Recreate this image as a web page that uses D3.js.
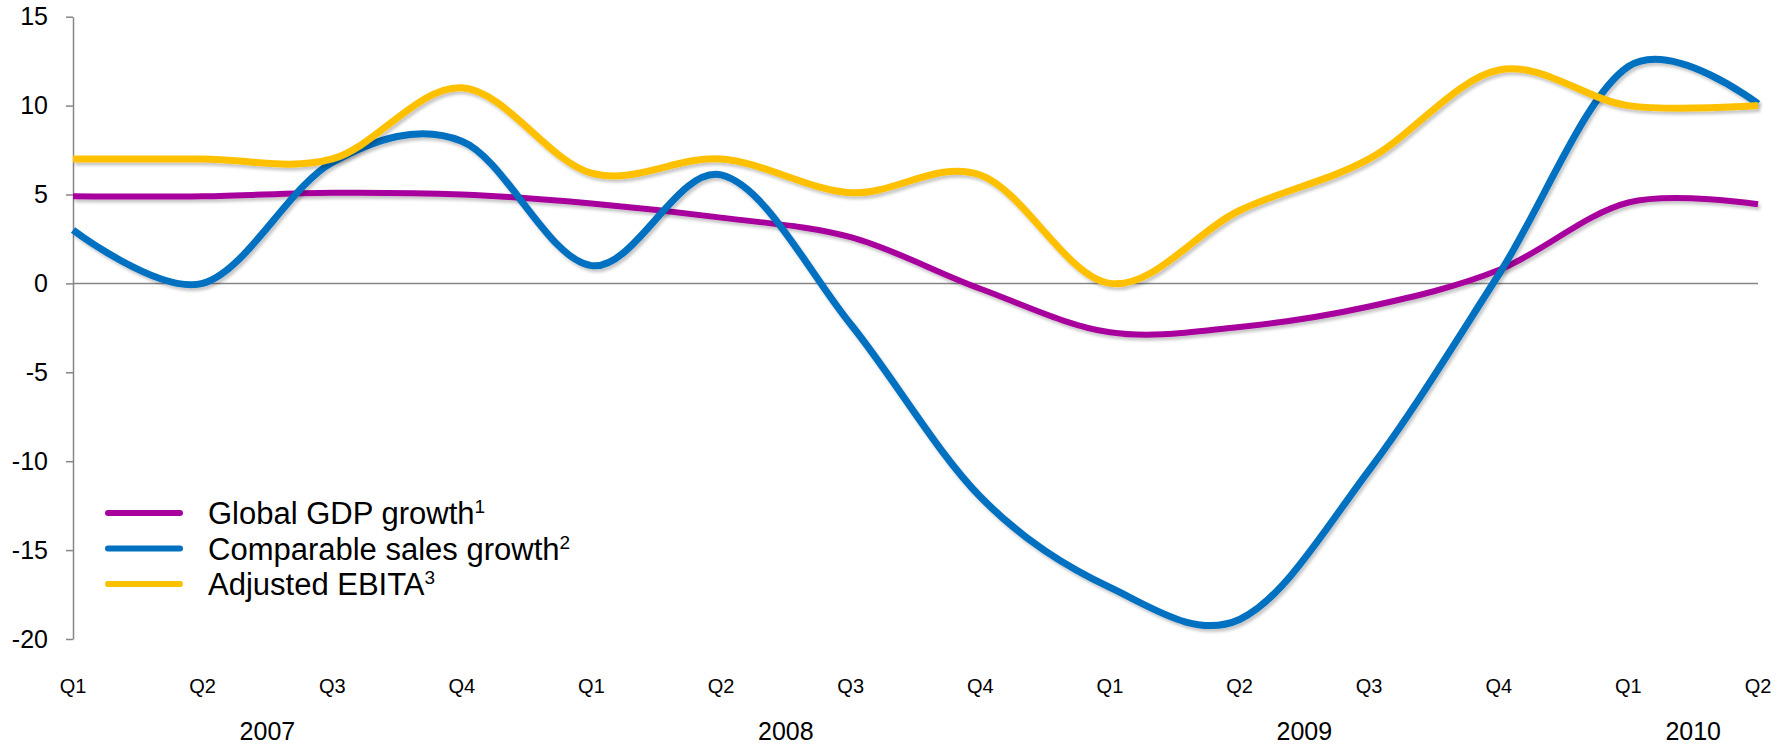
<!DOCTYPE html>
<html>
<head>
<meta charset="utf-8">
<script src="https://cdn.jsdelivr.net/npm/d3@7"></script>
<style>
  body { margin: 0; background: #fff; }
  text { font-family: "Liberation Sans", Arial, sans-serif; fill: #000; }
</style>
</head>
<body>
<script>
var width = 1782;
var height = 752;

// quarters on the x axis and the year each one belongs to
var quarters = ['Q1', 'Q2', 'Q3', 'Q4', 'Q1', 'Q2', 'Q3', 'Q4', 'Q1', 'Q2', 'Q3', 'Q4', 'Q1', 'Q2'];
var quarterYears = ['2007', '2007', '2007', '2007', '2008', '2008', '2008', '2008',
    '2009', '2009', '2009', '2009', '2010', '2010'];
var years = ['2007', '2008', '2009', '2010'];
var yTicks = [-20, -15, -10, -5, 0, 5, 10, 15];

// series values, %
var gdpGrowth = [4.9, 4.9, 5.1, 5.0, 4.5, 3.7, 2.6, -0.3, -2.75, -2.45, -1.3, 0.75, 4.55, 4.45];
var salesGrowth = [3.0, 0.0, 6.8, 8.0, 1.0, 6.1, -2.3, -12.0, -17.1, -18.9, -10.5, 0.5, 12.2, 10.1];
var ebita = [7.0, 7.0, 7.0, 11.0, 6.2, 7.0, 5.1, 6.1, 0.0, 4.1, 7.0, 12.0, 10.0, 10.0];

var series = [
    { name: 'Global GDP growth', sup: '1', values: gdpGrowth, color: '#A8009C', width: 6 },
    { name: 'Comparable sales growth', sup: '2', values: salesGrowth, color: '#0070C0', width: 7 },
    { name: 'Adjusted EBITA', sup: '3', values: ebita, color: '#FFC000', width: 7 }
];

var x = d3.scalePoint()
    .domain(d3.range(quarters.length))
    .range([73, 1758]);

var y = d3.scaleLinear()
    .domain([-20, 15])
    .range([639, 16.7]);

var svg = d3.select('body')
    .append('svg')
    .attr('width', width)
    .attr('height', height);

// soft shadow under the lines
var filter = svg.append('defs').append('filter')
    .attr('id', 'shadow')
    .attr('x', '-5%').attr('y', '-5%')
    .attr('width', '110%').attr('height', '120%');
filter.append('feDropShadow')
    .attr('dx', 2).attr('dy', 3)
    .attr('stdDeviation', 1.5)
    .attr('flood-color', '#000')
    .attr('flood-opacity', 0.22);

// y axis (plain hyphen for negatives, like the original)
var yAxis = d3.axisLeft(y)
    .tickValues(yTicks)
    .tickSizeInner(7)
    .tickSizeOuter(0)
    .tickPadding(18)
    .tickFormat(function(d) { return String(d); });

var gy = svg.append('g')
    .attr('transform', 'translate(' + x(0) + ',0)')
    .call(yAxis);
gy.select('.domain').attr('stroke', '#868686').attr('stroke-width', 1.5);
gy.selectAll('.tick line').attr('stroke', '#868686').attr('stroke-width', 1.5);
gy.selectAll('.tick text')
    .style('font-family', '"Liberation Sans", Arial, sans-serif')
    .style('font-size', '25px')
    .attr('fill', '#000');

// zero line
svg.append('line')
    .attr('x1', x(0))
    .attr('x2', x(quarters.length - 1))
    .attr('y1', y(0))
    .attr('y2', y(0))
    .attr('stroke', '#868686')
    .attr('stroke-width', 1.5);

// quarter labels
svg.selectAll('.qlabel')
    .data(quarters)
    .enter()
    .append('text')
    .attr('class', 'qlabel')
    .attr('x', function(d, i) { return x(i); })
    .attr('y', 693)
    .attr('text-anchor', 'middle')
    .style('font-size', '20px')
    .text(function(d) { return d; });

// year labels, centred under their quarters
svg.selectAll('.ylabel')
    .data(years)
    .enter()
    .append('text')
    .attr('class', 'ylabel')
    .attr('x', function(d) {
        return d3.mean(quarters.map(function(q, i) { return i; })
            .filter(function(i) { return quarterYears[i] === d; }), function(i) { return x(i); });
    })
    .attr('y', 740)
    .attr('text-anchor', 'middle')
    .style('font-size', '25px')
    .text(function(d) { return d; });

// lines
var line = d3.line()
    .x(function(d, i) { return x(i); })
    .y(function(d) { return y(d); })
    .curve(d3.curveCardinal.tension(0));

svg.selectAll('.series')
    .data(series)
    .enter()
    .append('path')
    .attr('class', 'series')
    .attr('fill', 'none')
    .attr('stroke', function(d) { return d.color; })
    .attr('stroke-width', function(d) { return d.width; })
    .attr('stroke-linejoin', 'round')
    .attr('filter', 'url(#shadow)')
    .attr('d', function(d) { return line(d.values); });

// legend
var legend = svg.selectAll('.legend')
    .data(series)
    .enter()
    .append('g')
    .attr('class', 'legend')
    .attr('transform', function(d, i) { return 'translate(108,' + (513 + i * 35.5) + ')'; });

legend.append('line')
    .attr('x1', 0)
    .attr('x2', 72)
    .attr('stroke', function(d) { return d.color; })
    .attr('stroke-width', 6)
    .attr('stroke-linecap', 'round');

var legendText = legend.append('text')
    .attr('x', 100)
    .attr('y', 11)
    .style('font-size', '31px');
legendText.append('tspan')
    .text(function(d) { return d.name; });
legendText.append('tspan')
    .attr('dy', -11)
    .style('font-size', '19px')
    .text(function(d) { return d.sup; });
</script>
</body>
</html>
